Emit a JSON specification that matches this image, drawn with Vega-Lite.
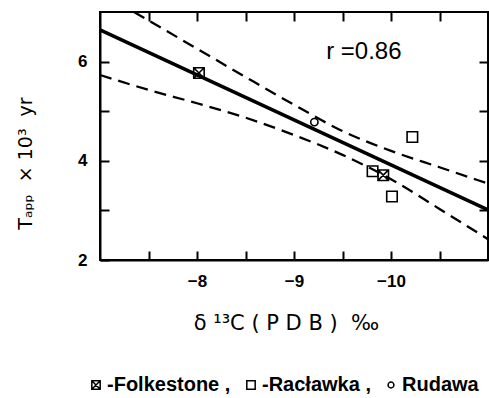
{
  "$schema": "https://vega.github.io/schema/vega-lite/v6.json",
  "width": 388,
  "height": 248,
  "autosize": "none",
  "padding": {"left": 100, "top": 12, "right": 1, "bottom": 138},
  "background": "white",
  "config": {
    "font": "Liberation Sans",
    "view": {"stroke": "black", "strokeWidth": 2},
    "axis": {
      "domainColor": "black",
      "domainWidth": 2,
      "tickColor": "black",
      "tickWidth": 2,
      "tickSize": -9,
      "grid": false,
      "labelColor": "black",
      "titleColor": "black",
      "labelFont": "Liberation Sans",
      "labelFontSize": 17,
      "labelFontWeight": "bold",
      "titleFontWeight": "normal"
    }
  },
  "datasets": {
    "pts": [
      {"site": "Folkestone", "d13C": -8.02, "T": 5.77},
      {"site": "Folkestone", "d13C": -9.92, "T": 3.71},
      {"site": "Racławka", "d13C": -9.81, "T": 3.79},
      {"site": "Racławka", "d13C": -10.01, "T": 3.28},
      {"site": "Racławka", "d13C": -10.22, "T": 4.48},
      {"site": "Rudawa", "d13C": -9.21, "T": 4.78}
    ],
    "curves": [
      {"curve": "fit", "d13C": -7.0, "T": 6.64},
      {"curve": "fit", "d13C": -11.0, "T": 3.01},
      {"curve": "upper", "d13C": -7.35, "T": 7.0},
      {"curve": "upper", "d13C": -7.5, "T": 6.83},
      {"curve": "upper", "d13C": -8.0, "T": 6.26},
      {"curve": "upper", "d13C": -8.5, "T": 5.69},
      {"curve": "upper", "d13C": -9.0, "T": 5.13},
      {"curve": "upper", "d13C": -9.5, "T": 4.6},
      {"curve": "upper", "d13C": -10.0, "T": 4.2},
      {"curve": "upper", "d13C": -10.5, "T": 3.87},
      {"curve": "upper", "d13C": -11.0, "T": 3.54},
      {"curve": "lower", "d13C": -7.0, "T": 5.73},
      {"curve": "lower", "d13C": -7.5, "T": 5.43},
      {"curve": "lower", "d13C": -8.0, "T": 5.16},
      {"curve": "lower", "d13C": -8.5, "T": 4.87},
      {"curve": "lower", "d13C": -9.0, "T": 4.52},
      {"curve": "lower", "d13C": -9.5, "T": 4.12},
      {"curve": "lower", "d13C": -10.0, "T": 3.63},
      {"curve": "lower", "d13C": -10.5, "T": 3.03},
      {"curve": "lower", "d13C": -11.0, "T": 2.42}
    ],
    "notes": [
      {"label": "r =0.86", "d13C": -9.72, "T": 6.2}
    ]
  },
  "layer": [
    {
      "data": {"name": "curves"},
      "transform": [{"filter": "datum.curve === 'fit'"}],
      "mark": {"type": "line", "color": "black", "strokeWidth": 3.5},
      "encoding": {
        "x": {
          "field": "d13C", "type": "quantitative",
          "scale": {"domain": [-11, -7], "reverse": true, "nice": false, "zero": false},
          "axis": {
            "orient": "bottom",
            "values": [-7.5, -8, -8.5, -9, -9.5, -10, -10.5],
            "labelExpr": "datum.value % 1 === 0 ? format(datum.value, 'd') : ''",
            "labelPadding": 22,
            "title": "δ ¹³C ( P D B )\u00a0 ‰",
            "titleFont": "DejaVu Sans",
            "titleFontSize": 21,
            "titleX": 186,
            "titleY": 63,
            "titleBaseline": "middle",
            "titleAlign": "center"
          }
        },
        "y": {
          "field": "T", "type": "quantitative",
          "scale": {"domain": [2, 7], "nice": false, "zero": false},
          "axis": {
            "orient": "left",
            "values": [2, 3, 4, 5, 6],
            "labelExpr": "datum.value % 2 === 0 ? datum.value : ''",
            "labelPadding": 22,
            "title": "Tₐₚₚ\u00a0 × 10³\u00a0 yr",
            "titleFont": "DejaVu Sans",
            "titleFontSize": 19,
            "titleX": -75,
            "titleY": 151,
            "titleBaseline": "middle",
            "titleAlign": "center",
            "titleAngle": -90
          }
        },
        "detail": {"field": "curve"}
      }
    },
    {
      "data": {"name": "curves"},
      "transform": [{"filter": "datum.curve !== 'fit'"}],
      "mark": {"type": "line", "color": "black", "strokeWidth": 2.3, "strokeDash": [12, 7], "interpolate": "monotone"},
      "encoding": {
        "x": {
          "field": "d13C", "type": "quantitative",
          "axis": {"orient": "top", "values": [-7.5, -8, -8.5, -9, -9.5, -10, -10.5], "labels": false, "title": null, "domain": false}
        },
        "y": {
          "field": "T", "type": "quantitative",
          "axis": {"orient": "right", "values": [3, 4, 5, 6], "labels": false, "title": null, "domain": false}
        },
        "detail": {"field": "curve"}
      }
    },
    {
      "data": {"name": "pts"},
      "mark": {"type": "point", "filled": false, "color": "black", "strokeWidth": 1.6, "opacity": 1, "size": 110},
      "encoding": {
        "x": {"field": "d13C", "type": "quantitative", "axis": null},
        "y": {"field": "T", "type": "quantitative", "axis": null},
        "shape": {
          "field": "site", "type": "nominal",
          "scale": {
            "domain": ["Folkestone", "Racławka", "Rudawa"],
            "range": ["M-1,-1H1V1H-1Z M-1,-1L1,1 M1,-1L-1,1", "square", "M0.7,0A0.7,0.7 0 1,1 -0.7,0A0.7,0.7 0 1,1 0.7,0Z"]
          },
          "legend": {
            "orient": "none",
            "legendX": -14,
            "legendY": 363,
            "direction": "horizontal",
            "title": null,
            "labelExpr": "datum.label === 'Rudawa' ? '\u00a0 Rudawa' : '-' + datum.label + ' ,'",
            "labelFont": "Liberation Sans",
            "labelFontSize": 20,
            "labelFontWeight": "bold",
            "labelColor": "black",
            "labelOffset": 1,
            "labelLimit": 200,
            "symbolSize": 70,
            "symbolStrokeWidth": 1.5,
            "symbolStrokeColor": "black",
            "symbolFillColor": "transparent",
            "columnPadding": 10
          }
        }
      }
    },
    {
      "data": {"name": "notes"},
      "mark": {"type": "text", "fontSize": 24, "color": "black", "font": "Liberation Sans", "align": "center", "baseline": "middle"},
      "encoding": {
        "x": {"field": "d13C", "type": "quantitative", "axis": null},
        "y": {"field": "T", "type": "quantitative", "axis": null},
        "text": {"field": "label"}
      }
    }
  ],
  "resolve": {"axis": {"x": "independent", "y": "independent"}}
}
